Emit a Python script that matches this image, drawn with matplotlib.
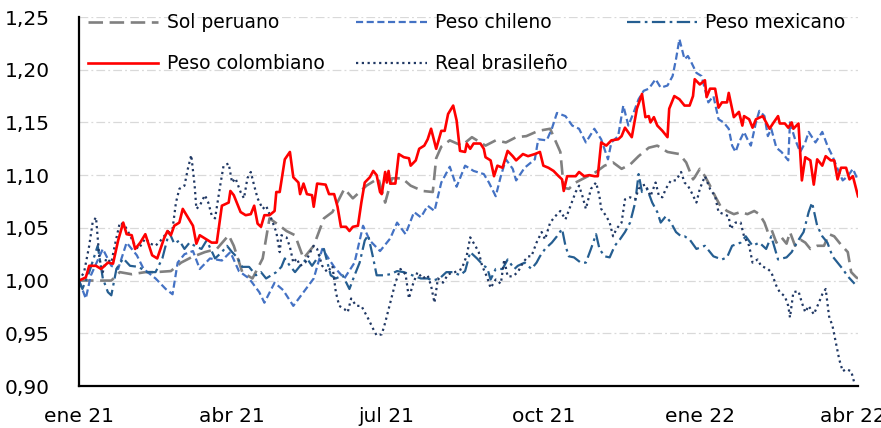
import matplotlib.pyplot as plt
import pandas as pd

# Monedas latinoamericanas frente al dolar (indice, 1 ene 2021 = 1)
# dias contados desde el 1 de enero de 2021
inicio = pd.Timestamp("2021-01-01")

dias_sol = [0, 9, 19, 24, 31, 39, 45, 54, 60, 66, 74, 81, 88, 91, 96, 102, 108, 112, 118,
            122, 127, 132, 138, 144, 149, 156, 161, 169, 176, 180, 184, 190, 195, 202, 208, 210,
            213, 218, 225, 231, 236, 239, 245, 251, 257, 263, 270, 277, 280, 283, 285, 288, 292,
            298, 304, 309, 314, 319, 324, 329, 335, 340, 346, 353, 357, 361, 362, 365, 368, 371,
            374, 377, 381, 385, 389, 393, 397, 400, 403, 405, 407, 410, 413, 416, 418, 421, 424,
            427, 430, 434, 438, 441, 444, 448, 452, 454, 457, 458]
sol_peruano = [1.000, 1.000, 1.000, 1.008, 1.006, 1.008, 1.008, 1.009, 1.017, 1.022, 1.027,
               1.030, 1.043, 1.033, 1.008, 1.002, 1.021, 1.059, 1.052, 1.047, 1.043, 1.021,
               1.033, 1.059, 1.065, 1.087, 1.078, 1.090, 1.097, 1.074, 1.097, 1.097, 1.090,
               1.085, 1.084, 1.116, 1.127, 1.133, 1.128, 1.136, 1.131, 1.128, 1.133, 1.131,
               1.136, 1.137, 1.142, 1.144, 1.133, 1.122, 1.088, 1.087, 1.093, 1.098, 1.103,
               1.109, 1.112, 1.106, 1.110, 1.118, 1.126, 1.128, 1.122, 1.120, 1.112, 1.096,
               1.098, 1.106, 1.099, 1.090, 1.080, 1.071, 1.066, 1.063, 1.065, 1.063, 1.066,
               1.063, 1.055, 1.046, 1.049, 1.036, 1.041, 1.035, 1.046, 1.033, 1.039, 1.036,
               1.030, 1.033, 1.033, 1.044, 1.042, 1.034, 1.027, 1.008, 1.003, 1.002]

dias_chi = [0, 4, 7, 14, 19, 23, 28, 34, 38, 45, 51, 55, 58, 62, 67, 71, 77, 84, 89, 94, 100,
            106, 109, 115, 120, 126, 132, 138, 143, 150, 156, 162, 167, 171, 177, 183, 187, 192,
            197, 201, 205, 209, 213, 218, 222, 227, 232, 238, 241, 245, 248, 251, 255, 257, 262,
            268, 270, 275, 278, 281, 286, 290, 294, 298, 303, 307, 311, 313, 317, 320, 323, 326,
            329, 332, 335, 339, 342, 346, 349, 351, 353, 356, 358, 360, 363, 366, 370, 373, 376,
            379, 382, 384, 386, 388, 391, 393, 395, 398, 400, 403, 405, 407, 410, 413, 417, 418,
            421, 424, 427, 429, 433, 437, 440, 443, 446, 449, 452, 455, 458]
peso_chileno = [1.000, 0.983, 1.005, 1.030, 1.014, 1.011, 1.036, 1.024, 1.011, 1.002, 0.992,
                0.987, 1.017, 1.025, 1.028, 1.011, 1.021, 1.019, 1.027, 1.009, 1.002, 0.989,
                0.979, 0.998, 0.991, 0.976, 0.989, 1.002, 1.030, 1.013, 1.002, 1.017, 1.052,
                1.038, 1.028, 1.040, 1.055, 1.044, 1.065, 1.060, 1.071, 1.066, 1.093, 1.108,
                1.089, 1.109, 1.104, 1.101, 1.093, 1.080, 1.099, 1.115, 1.106, 1.095, 1.107,
                1.115, 1.134, 1.133, 1.144, 1.159, 1.156, 1.147, 1.144, 1.131, 1.144, 1.134,
                1.115, 1.131, 1.137, 1.166, 1.147, 1.159, 1.172, 1.180, 1.182, 1.191, 1.183,
                1.185, 1.194, 1.210, 1.229, 1.210, 1.213, 1.207, 1.197, 1.194, 1.169, 1.175,
                1.153, 1.150, 1.144, 1.128, 1.122, 1.131, 1.141, 1.134, 1.128, 1.150, 1.161,
                1.156, 1.137, 1.144, 1.126, 1.122, 1.114, 1.150, 1.134, 1.122, 1.131, 1.141,
                1.131, 1.141, 1.128, 1.118, 1.106, 1.095, 1.099, 1.106, 1.095]

dias_mex = [0, 2, 6, 11, 14, 17, 19, 22, 26, 30, 35, 40, 45, 49, 53, 56, 59, 62, 65, 69, 72,
            75, 78, 80, 84, 87, 90, 93, 96, 100, 104, 107, 110, 113, 116, 119, 121, 124, 127,
            130, 134, 137, 140, 144, 148, 151, 155, 159, 162, 165, 168, 170, 173, 175, 179, 183,
            187, 191, 196, 201, 205, 208, 212, 216, 220, 224, 227, 230, 234, 238, 240, 242, 245,
            249, 252, 256, 258, 262, 266, 269, 271, 274, 278, 281, 284, 286, 288, 291, 295, 298,
            301, 304, 306, 309, 312, 315, 318, 321, 324, 327, 329, 331, 334, 337, 340, 342, 345,
            348, 351, 354, 356, 359, 363, 368, 373, 378, 381, 384, 389, 392, 396, 400, 404, 407,
            411, 416, 419, 422, 426, 429, 431, 434, 437, 440, 443, 446, 449, 452, 456]
peso_mexicano = [1.000, 0.992, 1.008, 1.033, 1.002, 0.989, 0.986, 1.011, 1.021, 1.014, 1.013,
                 1.008, 1.008, 1.021, 1.046, 1.035, 1.038, 1.030, 1.036, 1.032, 1.030, 1.038,
                 1.028, 1.021, 1.027, 1.033, 1.027, 1.022, 1.013, 1.013, 1.005, 1.008, 1.002,
                 1.005, 1.008, 1.013, 1.021, 1.014, 1.008, 1.014, 1.021, 1.014, 1.021, 1.030,
                 1.005, 1.002, 1.005, 0.992, 1.005, 1.017, 1.038, 1.043, 1.021, 1.005, 1.005,
                 1.006, 1.009, 1.008, 1.005, 1.002, 1.002, 1.000, 1.002, 1.008, 1.008, 1.005,
                 1.009, 1.027, 1.021, 1.014, 1.012, 1.001, 1.011, 1.011, 1.020, 1.011, 1.014,
                 1.017, 1.011, 1.017, 1.023, 1.030, 1.036, 1.042, 1.049, 1.033, 1.023, 1.022,
                 1.017, 1.017, 1.030, 1.044, 1.030, 1.023, 1.022, 1.033, 1.039, 1.046, 1.055,
                 1.074, 1.101, 1.084, 1.087, 1.074, 1.065, 1.055, 1.061, 1.055, 1.046, 1.042,
                 1.042, 1.039, 1.030, 1.033, 1.023, 1.020, 1.022, 1.033, 1.036, 1.042, 1.033,
                 1.036, 1.030, 1.042, 1.020, 1.022, 1.027, 1.036, 1.046, 1.065, 1.074, 1.052,
                 1.042, 1.036, 1.023, 1.017, 1.011, 1.004, 0.997]

dias_col = [0, 4, 6, 10, 13, 17, 20, 23, 26, 28, 31, 33, 36, 39, 43, 46, 50, 52, 54, 56, 59,
            61, 64, 67, 69, 71, 74, 78, 81, 84, 88, 89, 91, 95, 98, 101, 103, 105, 107, 109,
            112, 115, 116, 118, 121, 124, 126, 129, 130, 132, 134, 137, 138, 140, 145, 147, 150,
            152, 154, 157, 159, 161, 164, 166, 168, 171, 173, 175, 177, 178, 180, 181, 182, 183,
            186, 188, 191, 194, 195, 198, 200, 203, 205, 207, 210, 213, 215, 217, 220, 222, 224,
            227, 228, 230, 232, 236, 238, 239, 242, 244, 246, 249, 252, 255, 257, 261, 264, 268,
            271, 273, 276, 279, 282, 284, 285, 287, 292, 294, 297, 300, 303, 305, 307, 310, 313,
            317, 319, 321, 325, 328, 331, 333, 335, 336, 338, 340, 343, 346, 347, 350, 353, 356,
            359, 361, 362, 365, 368, 369, 371, 374, 376, 378, 381, 382, 385, 388, 390, 391, 394,
            396, 398, 402, 406, 408, 411, 412, 415, 417, 419, 420, 423, 425, 427, 430, 432, 434,
            437, 439, 442, 444, 446, 448, 451, 453, 455, 458]
peso_colombiano = [1.000, 1.003, 1.014, 1.014, 1.011, 1.017, 1.016, 1.038, 1.055, 1.044, 1.043,
                   1.030, 1.036, 1.044, 1.024, 1.021, 1.040, 1.047, 1.043, 1.052, 1.055, 1.068,
                   1.060, 1.052, 1.035, 1.043, 1.040, 1.036, 1.036, 1.071, 1.074, 1.085, 1.081,
                   1.065, 1.062, 1.063, 1.071, 1.054, 1.051, 1.062, 1.062, 1.066, 1.084, 1.084,
                   1.115, 1.122, 1.098, 1.093, 1.082, 1.092, 1.082, 1.081, 1.070, 1.092, 1.091,
                   1.082, 1.082, 1.070, 1.051, 1.051, 1.047, 1.051, 1.052, 1.074, 1.093, 1.098,
                   1.104, 1.100, 1.084, 1.082, 1.103, 1.093, 1.104, 1.092, 1.092, 1.120, 1.117,
                   1.116, 1.109, 1.114, 1.125, 1.128, 1.134, 1.144, 1.125, 1.142, 1.142, 1.158,
                   1.166, 1.152, 1.123, 1.122, 1.130, 1.125, 1.130, 1.130, 1.125, 1.117, 1.114,
                   1.099, 1.109, 1.107, 1.123, 1.118, 1.114, 1.120, 1.118, 1.120, 1.122, 1.109,
                   1.107, 1.104, 1.099, 1.096, 1.085, 1.099, 1.099, 1.103, 1.099, 1.100, 1.099,
                   1.099, 1.131, 1.128, 1.133, 1.134, 1.137, 1.145, 1.136, 1.163, 1.177, 1.155,
                   1.156, 1.150, 1.155, 1.147, 1.142, 1.136, 1.163, 1.175, 1.172, 1.166, 1.166,
                   1.175, 1.191, 1.186, 1.190, 1.174, 1.182, 1.182, 1.164, 1.169, 1.169, 1.178,
                   1.155, 1.160, 1.147, 1.156, 1.153, 1.145, 1.153, 1.156, 1.144, 1.149, 1.156,
                   1.149, 1.149, 1.145, 1.150, 1.144, 1.149, 1.095, 1.117, 1.114, 1.091, 1.115,
                   1.109, 1.118, 1.114, 1.114, 1.096, 1.107, 1.107, 1.096, 1.099, 1.080]

dias_bra = [0, 3, 6, 8, 10, 12, 14, 16, 19, 21, 24, 27, 29, 33, 35, 39, 42, 45, 48, 52, 55, 57,
            59, 62, 64, 66, 68, 69, 71, 74, 76, 78, 80, 83, 85, 88, 90, 92, 95, 97, 99, 101, 103,
            105, 108, 110, 113, 116, 118, 119, 122, 124, 126, 128, 130, 133, 136, 138, 140, 143,
            146, 149, 151, 153, 156, 158, 160, 163, 166, 168, 170, 173, 175, 178, 180, 183, 186,
            189, 192, 194, 196, 199, 202, 205, 207, 209, 211, 214, 217, 221, 225, 228, 230, 233,
            235, 237, 240, 242, 245, 248, 250, 252, 255, 258, 261, 264, 266, 269, 272, 274, 277,
            280, 283, 286, 289, 292, 294, 296, 298, 301, 304, 306, 307, 310, 312, 314, 316, 319,
            321, 324, 327, 329, 331, 333, 336, 339, 341, 343, 345, 348, 351, 354, 356, 358, 360,
            363, 365, 368, 371, 374, 376, 379, 382, 383, 386, 389, 391, 394, 396, 399, 401, 405,
            407, 410, 412, 415, 417, 418, 420, 423, 425, 427, 429, 432, 435, 437, 439, 441, 443,
            445, 447, 449, 451, 454, 456]
real_brasileno = [1.000, 1.008, 1.033, 1.055, 1.060, 1.021, 1.008, 1.021, 1.017, 1.033, 1.055,
                  1.052, 1.046, 1.033, 1.030, 1.040, 1.035, 1.033, 1.038, 1.046, 1.049, 1.074,
                  1.087, 1.090, 1.106, 1.119, 1.090, 1.068, 1.071, 1.081, 1.074, 1.062, 1.059,
                  1.090, 1.109, 1.111, 1.093, 1.097, 1.084, 1.078, 1.097, 1.103, 1.090, 1.078,
                  1.068, 1.071, 1.059, 1.046, 1.027, 1.043, 1.041, 1.032, 1.017, 1.021, 1.014,
                  1.017, 1.027, 1.033, 1.030, 1.014, 1.008, 1.014, 0.989, 0.976, 0.973, 0.970,
                  0.983, 0.976, 0.976, 0.970, 0.964, 0.954, 0.948, 0.949, 0.960, 0.979, 0.998,
                  1.011, 1.006, 0.983, 0.995, 1.008, 1.002, 1.005, 0.995, 0.979, 1.002, 0.998,
                  1.006, 1.008, 1.011, 1.024, 1.041, 1.033, 1.027, 1.014, 1.003, 0.993, 1.001,
                  0.997, 1.020, 1.004, 1.004, 1.008, 1.017, 1.023, 1.023, 1.036, 1.046, 1.039,
                  1.055, 1.061, 1.066, 1.058, 1.071, 1.084, 1.090, 1.080, 1.068, 1.087, 1.093,
                  1.080, 1.068, 1.061, 1.055, 1.042, 1.049, 1.055, 1.077, 1.079, 1.077, 1.087,
                  1.090, 1.091, 1.080, 1.093, 1.080, 1.079, 1.087, 1.095, 1.095, 1.103, 1.093,
                  1.090, 1.084, 1.074, 1.087, 1.099, 1.087, 1.080, 1.065, 1.063, 1.061, 1.049,
                  1.055, 1.055, 1.042, 1.033, 1.017, 1.020, 1.014, 1.011, 1.008, 0.995, 0.989,
                  0.985, 0.976, 0.965, 0.989, 0.990, 0.979, 0.970, 0.976, 0.968, 0.979, 0.987,
                  0.992, 0.966, 0.957, 0.941, 0.925, 0.914, 0.916, 0.914, 0.902]

ticks_fechas = ["2021-01-01", "2021-04-01", "2021-07-01", "2021-10-01", "2022-01-01", "2022-04-01"]
etiquetas = ["ene 21", "abr 21", "jul 21", "oct 21", "ene 22", "abr 22"]


def fechas(dias):
    return inicio + pd.to_timedelta(dias, unit="D")


fig = plt.figure(figsize=(8.81, 4.28), dpi=100)
ax = fig.add_axes([79 / 881, 42 / 428, 779 / 881, 369 / 428])

l_sol, = ax.plot(fechas(dias_sol), sol_peruano, color="#808080", lw=1.9,
                 dashes=(5.5, 2.5), label="Sol peruano")
l_chi, = ax.plot(fechas(dias_chi), peso_chileno, color="#4472C4", lw=1.6,
                 dashes=(3.2, 1.6), label="Peso chileno")
l_mex, = ax.plot(fechas(dias_mex), peso_mexicano, color="#255E91", lw=1.6,
                 dashes=(6, 2, 1.2, 2), label="Peso mexicano")
l_bra, = ax.plot(fechas(dias_bra), real_brasileno, color="#203864", lw=1.6,
                 dashes=(1, 1.6), label="Real brasileño")
l_col, = ax.plot(fechas(dias_col), peso_colombiano, color="#FF0000", lw=1.9,
                 label="Peso colombiano")

ax.set_ylim(0.90, 1.25)
ax.set_yticks([0.90, 0.95, 1.00, 1.05, 1.10, 1.15, 1.20, 1.25])
ax.set_yticklabels([f"{v:.2f}".replace(".", ",") for v in ax.get_yticks()])
ax.set_xlim(inicio, inicio + pd.Timedelta(days=458))
ax.set_xticks(pd.to_datetime(ticks_fechas))
ax.set_xticklabels(etiquetas)
ax.tick_params(axis="both", length=0, labelsize=14.5, colors="black")
ax.tick_params(axis="y", pad=21)
ax.tick_params(axis="x", pad=15)

ax.grid(axis="y", color="#d9d9d9", lw=0.9, linestyle=(0, (7, 2.5, 1.5, 2.5)))
ax.set_axisbelow(True)
for lado in ["top", "right"]:
    ax.spines[lado].set_visible(False)
for lado in ["left", "bottom"]:
    ax.spines[lado].set_color("black")
    ax.spines[lado].set_linewidth(1.6)

# leyenda en tres columnas de igual ancho
opciones = dict(frameon=False, fontsize=13.5, handlelength=3.75, handletextpad=0.45,
                labelspacing=1.17, borderpad=0, borderaxespad=0, loc="upper left")
leg1 = ax.legend(handles=[l_sol, l_col], bbox_to_anchor=(0.0116, 1.010), **opciones)
ax.add_artist(leg1)
leg2 = ax.legend(handles=[l_chi, l_bra], bbox_to_anchor=(0.356, 1.010), **opciones)
ax.add_artist(leg2)
ax.legend(handles=[l_mex], bbox_to_anchor=(0.703, 1.010), **opciones)

fig.savefig("out.png", dpi=100)
